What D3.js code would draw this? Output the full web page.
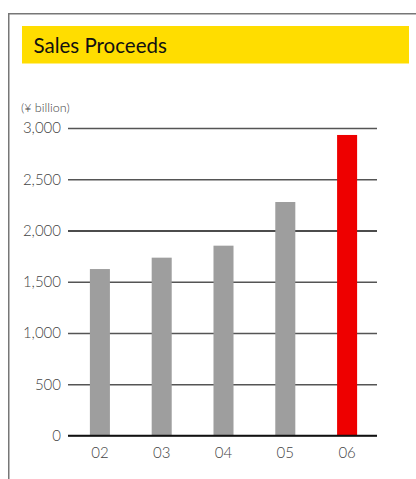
<!DOCTYPE html>
<html>
<head>
<meta charset="utf-8">
<script src="https://cdn.jsdelivr.net/npm/d3@7"></script>
<style>
  html, body { margin: 0; padding: 0; background: #fff; }
  svg { display: block; }
</style>
</head>
<body>
<svg id="chart" width="416" height="479"></svg>
<script>
// Sales proceeds by fiscal year (¥ billion)
const years = ["02", "03", "04", "05", "06"];
const sales = [1624, 1735, 1852, 2278, 2932];
const yTicks = [0, 500, 1000, 1500, 2000, 2500, 3000];
const title = "Sales Proceeds";
const unitLabel = "(¥ billion)";

const svg = d3.select("#chart");
const font = "Lato, 'Open Sans', 'DejaVu Sans', sans-serif";

// Panel frame (top and left edges)
svg.append("path")
  .attr("d", "M8.75,480 V13.75 H417")
  .attr("fill", "none")
  .attr("stroke", "#777")
  .attr("stroke-width", 1.5);

// Title band
svg.append("rect")
  .attr("x", 22).attr("y", 26)
  .attr("width", 387).attr("height", 37.5)
  .attr("fill", "#ffdd00");
svg.append("text")
  .attr("x", 33.5).attr("y", 52.5)
  .attr("font-family", font)
  .attr("font-size", 20.5)
  .attr("fill", "#111")
  .text(title);

const x = d3.scaleBand().domain(years).range([69, 378]).paddingInner(0.676).paddingOuter(0.338);
const y = d3.scaleLinear().domain([0, 3000]).range([435.5, 128]);

// Unit label
svg.append("text")
  .attr("x", 21).attr("y", 111.5)
  .attr("font-family", font)
  .attr("font-weight", 300)
  .attr("font-size", 12.5)
  .attr("fill", "#444")
  .text(unitLabel);

// Horizontal grid lines with value labels
const yAxis = d3.axisLeft(y)
  .tickValues(yTicks)
  .tickSize(-(377 - 68))
  .tickPadding(7)
  .tickFormat(d3.format(","));
const gy = svg.append("g")
  .attr("transform", "translate(68,0)")
  .call(yAxis);
gy.select(".domain").remove();
gy.selectAll(".tick line")
  .attr("stroke", d => (d === 0 || d === 2000) ? "#111" : "#555")
  .attr("stroke-width", 1.3);
gy.selectAll(".tick text")
  .attr("font-family", font)
  .attr("font-weight", 300)
  .attr("font-size", 15)
  .attr("fill", "#444");

// Bars: latest year highlighted in red
svg.append("g").selectAll("rect")
  .data(years.map((yr, i) => ({ yr, v: sales[i], last: i === years.length - 1 })))
  .join("rect")
  .attr("x", d => x(d.yr))
  .attr("y", d => y(d.v))
  .attr("width", x.bandwidth())
  .attr("height", d => y(0) - y(d.v))
  .attr("fill", d => d.last ? "#ee0000" : "#9e9e9e");

// Redraw the baseline above the bars
svg.append("line")
  .attr("x1", 68).attr("x2", 377)
  .attr("y1", y(0)).attr("y2", y(0))
  .attr("stroke", "#111").attr("stroke-width", 1.3);

// Year labels
const xAxis = d3.axisBottom(x).tickSize(0).tickPadding(12);
const gx = svg.append("g")
  .attr("transform", `translate(0,${y(0)})`)
  .call(xAxis);
gx.select(".domain").remove();
gx.selectAll(".tick text")
  .attr("font-family", font)
  .attr("font-weight", 300)
  .attr("font-size", 15)
  .attr("fill", "#444");
</script>
</body>
</html>
